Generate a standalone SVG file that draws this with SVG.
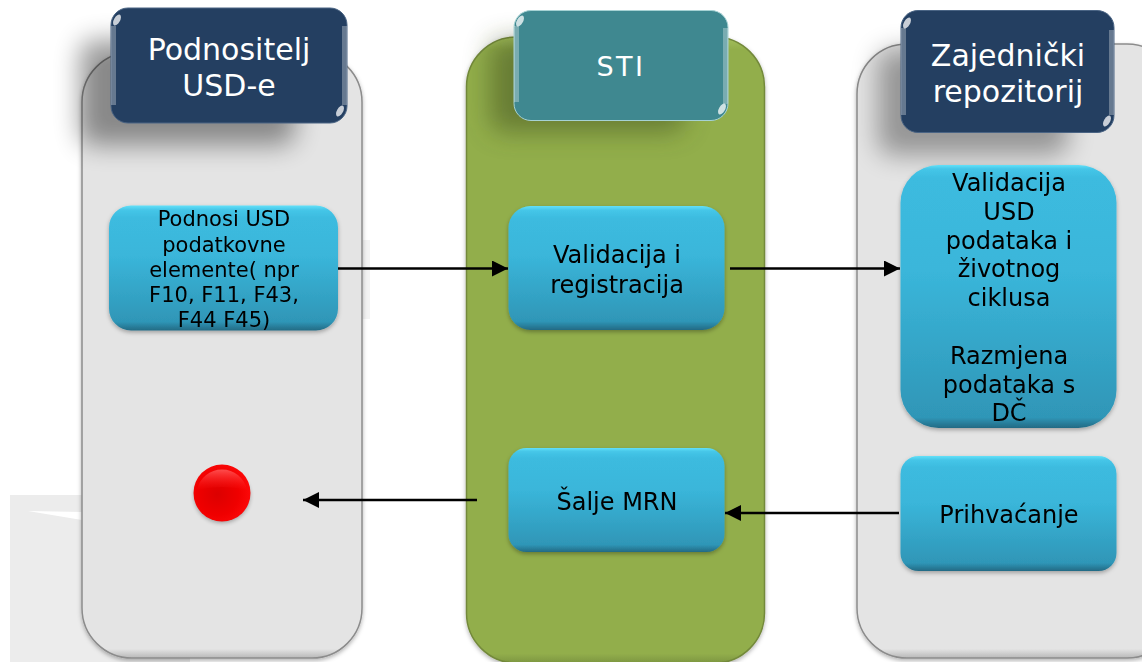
<svg xmlns="http://www.w3.org/2000/svg" width="1142" height="662" viewBox="0 0 1142 662">
<style>
text{font-family:"DejaVu Sans",Verdana,sans-serif;text-anchor:middle}
.w{fill:#fff;font-size:30px}
.k{fill:#000;font-size:24px}
.s{fill:#000;font-size:21px}
.panel{stroke:#8c8c8c;stroke-width:1.5}
.gloss{fill:none;stroke:#fff;stroke-opacity:.3;stroke-width:5}
.spark{fill:#fff;fill-opacity:.75}
.node{filter:url(#soft)}
.conn{stroke:#000;stroke-width:2.500;fill:none}
</style>
<defs>
<linearGradient id="blue" x1="0" y1="0" x2="0" y2="1">
<stop offset="0" stop-color="#63e0f8"/><stop offset=".035" stop-color="#45c6e8"/><stop offset=".1" stop-color="#3cbbdf"/><stop offset=".4" stop-color="#3ab6da"/><stop offset=".93" stop-color="#2f96b7"/><stop offset="1" stop-color="#236a84"/>
</linearGradient>
<linearGradient id="blue2" x1="0" y1="0" x2="0" y2="1">
<stop offset="0" stop-color="#63e0f8"/><stop offset=".015" stop-color="#45c6e8"/><stop offset=".05" stop-color="#3cbbdf"/><stop offset=".4" stop-color="#3ab6da"/><stop offset=".96" stop-color="#2f96b7"/><stop offset="1" stop-color="#236a84"/>
</linearGradient>
<linearGradient id="grey" x1="0" y1="0" x2="0" y2="1">
<stop offset="0" stop-color="#e4e4e4"/><stop offset=".985" stop-color="#e4e4e4"/><stop offset="1" stop-color="#b8b8b8"/>
</linearGradient>
<linearGradient id="green" x1="0" y1="0" x2="0" y2="1">
<stop offset="0" stop-color="#a3bf5c"/><stop offset=".02" stop-color="#92ae4c"/><stop offset=".985" stop-color="#92ae4c"/><stop offset="1" stop-color="#7d9640"/>
</linearGradient>
<radialGradient id="red" cx=".42" cy=".52" r=".62">
<stop offset="0" stop-color="#dc0000"/><stop offset=".6" stop-color="#f00000"/><stop offset="1" stop-color="#ff0a0a"/>
</radialGradient>
<linearGradient id="redtop" x1="0" y1="0" x2="0" y2="1">
<stop offset="0" stop-color="#ff5a5a" stop-opacity=".85"/><stop offset="1" stop-color="#ff2020" stop-opacity="0"/>
</linearGradient>
<filter id="b12" x="-30%" y="-50%" width="160%" height="200%"><feGaussianBlur stdDeviation="13"/></filter>
<filter id="b3" x="-20%" y="-20%" width="140%" height="140%"><feGaussianBlur stdDeviation="2"/></filter>
<filter id="soft" x="-5%" y="-5%" width="110%" height="112%"><feDropShadow dx="0" dy="2" stdDeviation="2" flood-color="#000" flood-opacity=".3"/></filter>
<marker id="arrow" markerUnits="userSpaceOnUse" markerWidth="17" markerHeight="16" refX="16" refY="8" orient="auto"><path d="M0 0L16 8L0 16z" fill="#000"/></marker>
</defs>

<rect x="10" y="495" width="180" height="167" fill="#ececec"/>
<path d="M28 511L82 512V520z" fill="#fff"/>
<rect x="340" y="240" width="30" height="79" fill="#f3f3f3"/>

<g id="panel-left" class="node">
<rect x="82" y="52" width="280" height="606" rx="50" fill="url(#grey)" class="panel"/>
</g>
<g id="panel-center" class="node">
<rect x="466.500" y="37" width="298" height="626" rx="50" fill="url(#green)" stroke="#73893a" stroke-width="1.500"/>
</g>
<g id="panel-right" class="node">
<rect x="857" y="44" width="320" height="614" rx="50" fill="url(#grey)" class="panel"/>
</g>

<rect x="80" y="40" width="215" height="105" rx="14" fill="#000" opacity=".4" filter="url(#b12)"/>
<rect x="490" y="40" width="195" height="92" rx="14" fill="#3c4c1a" opacity=".5" filter="url(#b12)"/>
<rect x="878" y="50" width="190" height="105" rx="14" fill="#000" opacity=".34" filter="url(#b12)"/>

<g id="header-left">
<rect x="111" y="8" width="236" height="115" rx="17" fill="#243f61" stroke="#4a6484"/>
<path d="M113.500 105V26M344.500 105V26" class="gloss"/>
<ellipse class="spark" cx="117" cy="20" rx="3" ry="6" transform="rotate(30 117 20)"/>
<ellipse class="spark" cx="340" cy="111" rx="3" ry="6" transform="rotate(30 340 111)"/>
<text class="w" x="229" y="60">Podnositelj</text><text class="w" x="229" y="96">USD-e</text>
</g>
<g id="header-center">
<rect x="514" y="10.500" width="214" height="110" rx="17" fill="#3f8890" stroke="#a6d2d4"/>
<path d="M516.500 102V26M725.500 104V28" class="gloss"/>
<ellipse class="spark" cx="520" cy="21" rx="3" ry="6" transform="rotate(30 520 21)"/>
<ellipse class="spark" cx="722" cy="109" rx="3" ry="6" transform="rotate(30 722 109)"/>
<text class="w" x="621" y="76" style="font-size:27px;letter-spacing:2.500px">STI</text>
</g>
<g id="header-right">
<rect x="901" y="10.500" width="213" height="122" rx="17" fill="#243f61" stroke="#4a6484"/>
<path d="M903.500 115V28M1111.500 115V30" class="gloss"/>
<ellipse class="spark" cx="907" cy="23" rx="3" ry="6" transform="rotate(30 907 23)"/>
<ellipse class="spark" cx="1107" cy="121" rx="3" ry="6" transform="rotate(30 1107 121)"/>
<text class="w" x="1008" y="66">Zajednički</text><text class="w" x="1008" y="102">repozitorij</text>
</g>

<g id="node-podnosi" class="node">
<rect x="109" y="205.500" width="229" height="125" rx="22" fill="url(#blue)"/>
<text class="s" x="224" y="226">Podnosi USD</text>
<text class="s" x="224" y="252">podatkovne</text>
<text class="s" x="224" y="277">elemente(  npr</text>
<text class="s" x="224" y="302">F10, F11, F43,</text>
<text class="s" x="224" y="327">F44 F45)</text>
</g>
<g id="node-validacija" class="node">
<rect x="508.500" y="206" width="216" height="124" rx="22" fill="url(#blue)"/>
<text class="k" x="617" y="263">Validacija i</text><text class="k" x="617" y="293">registracija</text>
</g>
<g id="node-usd" class="node">
<rect x="900.500" y="165" width="216" height="263" rx="38" fill="url(#blue2)"/>
<text class="k" x="1009" y="191">Validacija</text>
<text class="k" x="1009" y="220">USD</text>
<text class="k" x="1009" y="249">podataka i</text>
<text class="k" x="1009" y="277">životnog</text>
<text class="k" x="1009" y="306">ciklusa</text>
<text class="k" x="1009" y="364">Razmjena</text>
<text class="k" x="1009" y="393">podataka s</text>
<text class="k" x="1009" y="421">DČ</text>
</g>
<g id="node-salje" class="node">
<rect x="508.500" y="448" width="216" height="104" rx="18" fill="url(#blue)"/>
<text class="k" x="617" y="510">Šalje MRN</text>
</g>
<g id="node-prihvacanje" class="node">
<rect x="900.500" y="456" width="216" height="115" rx="18" fill="url(#blue)"/>
<text class="k" x="1009" y="523">Prihvaćanje</text>
</g>
<g id="node-red">
<ellipse cx="222" cy="496" rx="28" ry="27" fill="#000" opacity=".3" filter="url(#b3)"/>
<circle cx="222" cy="493" r="28.500" fill="url(#red)"/>
<path d="M197 490a25.500 25.500 0 0 1 50 0q-25-6-50 0z" fill="url(#redtop)"/>
</g>

<g id="connectors">
<path class="conn" d="M338 268.500H508" marker-end="url(#arrow)"/>
<path class="conn" d="M730 268.500H900" marker-end="url(#arrow)"/>
<path class="conn" d="M899 513H725" marker-end="url(#arrow)"/>
<path class="conn" d="M477 500H303" marker-end="url(#arrow)"/>
</g>
</svg>
